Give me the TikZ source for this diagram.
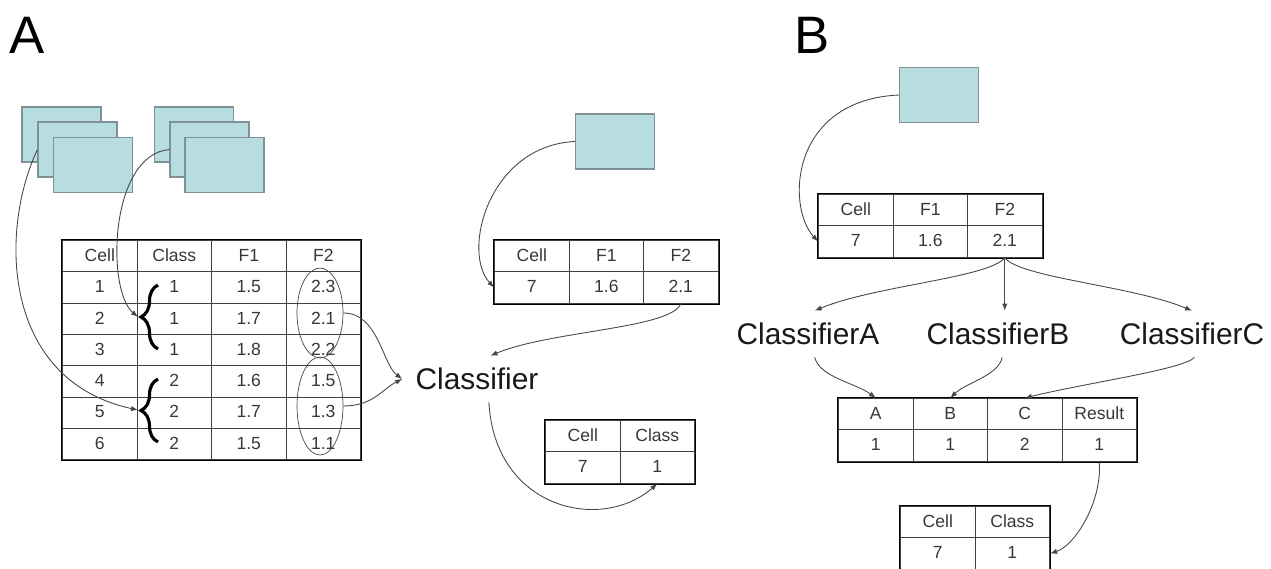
\documentclass[tikz,border=0pt]{standalone}
\usepackage{fontspec}
\setmainfont{Liberation Sans}
\usetikzlibrary{matrix,arrows.meta,shapes.geometric,decorations.pathreplacing}
\definecolor{imgfill}{RGB}{183,221,224}
\definecolor{imgedge}{RGB}{125,145,150}
\definecolor{arrgray}{RGB}{70,70,70}
\definecolor{txtgray}{RGB}{55,55,55}
\begin{document}
\begin{tikzpicture}[x=0.02cm,y=-0.02cm,
    img/.style={draw=imgedge,fill=imgfill,line width=0.6pt,minimum width=1.58cm,minimum height=1.1cm,inner sep=0pt},
    tbl/.style={matrix of nodes,draw,line width=1.2pt,inner sep=0pt,anchor=north west,
      column sep=-0.6pt,row sep=-0.6pt,
      nodes={draw=black!75,line width=0.6pt,minimum width=1.49cm,minimum height=0.626cm,
        text height=7pt,text depth=1pt,anchor=center,
        inner sep=0pt,font=\fontsize{10}{12}\selectfont,text=txtgray}},
    clf/.style={font=\fontsize{17}{20}\selectfont,text=black!90,inner xsep=0.26cm,inner ysep=0.24cm},
    panel/.style={font=\fontsize{30}{36}\selectfont},
    arr/.style={draw=arrgray,line width=0.5pt,-{Latex[length=4pt,width=3pt]}},
    brc/.style={decorate,decoration={brace,amplitude=0.34cm},line width=1.8pt},
    grp/.style={draw=arrgray,ellipse,line width=0.4pt,inner sep=0pt,minimum width=0.92cm}]

      \useasboundingbox (0,0) rectangle (1271,568);

      \path (27,35) node[panel](labA){A};
      \path (812,35) node[panel](labB){B};

      % training images
      \path (61.5,134.5) node[img](img1a){};
      \path (77.5,149.5) node[img](img1b){};
      \path (93,165) node[img](img1c){};
      \path (194,134.5) node[img](img2a){};
      \path (209.5,149.5) node[img](img2b){};
      \path (224.5,165) node[img](img2c){};
      \path (615,141.5) node[img](imgA){};
      \path (939,95) node[img](imgB){};

      \matrix[tbl](tabA) at (61,239) {
        Cell & Class & F1 & F2\\
        1 & 1 & 1.5 & 2.3\\
        2 & 1 & 1.7 & 2.1\\
        3 & 1 & 1.8 & 2.2\\
        4 & 2 & 1.6 & 1.5\\
        5 & 2 & 1.7 & 1.3\\
        6 & 2 & 1.5 & 1.1\\
      };
      \matrix[tbl](tabB) at (493,239) {
        Cell & F1 & F2\\
        7 & 1.6 & 2.1\\
      };
      \matrix[tbl](tabC) at (544,419) {
        Cell & Class\\
        7 & 1\\
      };
      \matrix[tbl](tabD) at (817,193) {
        Cell & F1 & F2\\
        7 & 1.6 & 2.1\\
      };
      \matrix[tbl](tabE) at (837,397) {
        A & B & C & Result\\
        1 & 1 & 2 & 1\\
      };
      \matrix[tbl](tabF) at (899,505) {
        Cell & Class\\
        7 & 1\\
      };

      \draw[brc] (158,349) -- (158,285);
      \draw[brc] (158,442) -- (158,379);
      \coordinate (brc1) at (138,317);
      \coordinate (brc2) at (138,410);
      \path (320,313) node[grp,minimum height=1.8cm](ellA){};
      \path (320,406) node[grp,minimum height=1.96cm](ellB){};

      \path (477,379) node[clf](clf){Classifier};
      \path (808,334) node[clf](clfA){ClassifierA};
      \path (998,334) node[clf](clfB){ClassifierB};
      \path (1192,334) node[clf](clfC){ClassifierC};

      \draw[arr] (img1b.west) .. controls +(-38,80) and +(-137,-30) .. (brc2);
      \draw[arr] (img2b.west) .. controls +(-60,5) and +(-32,-27) .. (brc1);
      \draw[arr] (ellA.east) .. controls +(35,0) and +(-20,-15) .. (clf.west);
      \draw[arr] (ellB.east) .. controls +(30,0) and +(-20,10) .. (clf.west);
      \draw[arr] (imgA.west) .. controls +(-86,4) and +(-33,-36) .. (tabB-2-1.west);
      \draw[arr] (tabB-2-3.south) .. controls +(-10,25) and +(60,-25) .. (clf.60);
      \draw[arr] (clf.-63) .. controls +(6,107) and +(-56,49) .. (tabC-2-2.south);

      \draw[arr] (imgB.west) .. controls +(-109,5) and +(-32,-35) .. (tabD-2-1.west);
      \draw[arr] (tabD-2-3.south) .. controls +(-15,20) and +(60,-25) .. (clfA.74);
      \draw[arr] (tabD-2-3.south) -- (tabD-2-3.south |- clfB.north);
      \draw[arr] (tabD-2-3.south) .. controls +(15,20) and +(-60,-25) .. (clfC.north);
      \draw[arr] (clfA.-74) .. controls +(5,20) and +(-20,-15) .. (tabE-1-1.north);
      \draw[arr] (clfB.-80) .. controls +(-3,18) and +(15,-15) .. (tabE-1-2.north);
      \draw[arr] (clfC.-84) .. controls +(-10,12) and +(60,-15) .. (tabE-1-3.north);
      \draw[arr] (tabE-2-4.south) .. controls +(3,40) and +(25,-8) .. (tabF-2-2.east);

    \end{tikzpicture}
\end{document}
